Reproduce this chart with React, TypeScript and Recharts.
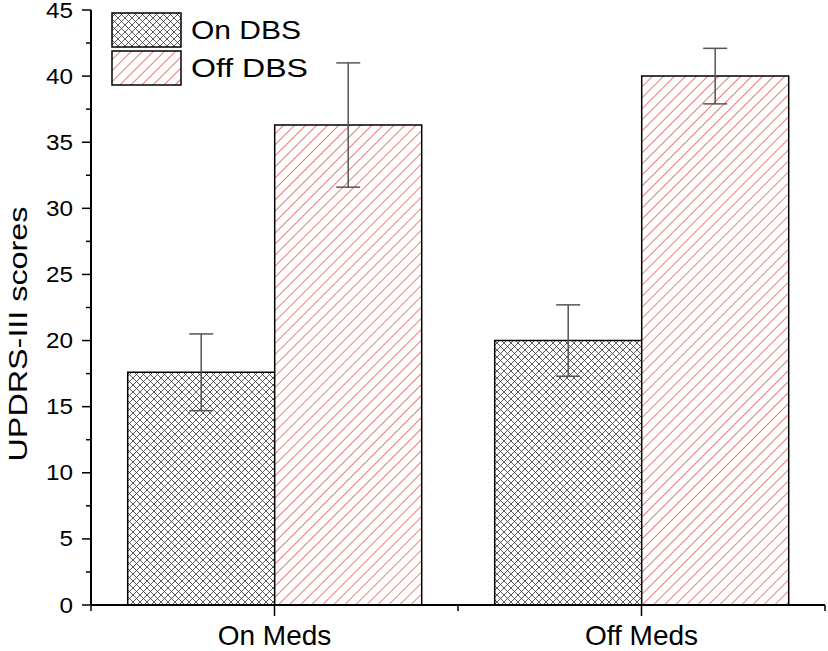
import { BarChart, Bar, XAxis, YAxis, ErrorBar, Legend } from "recharts";

const categories = ["On Meds", "Off Meds"];
const onDbs = [17.6, 20.0];
const onDbsErr = [2.9, 2.7];
const offDbs = [36.3, 40.0];
const offDbsErr = [4.7, 2.1];
const seriesKeys = ["onDbs", "offDbs"];
const yTicks = [0, 2.5, 5, 7.5, 10, 12.5, 15, 17.5, 20, 22.5, 25, 27.5, 30, 32.5, 35, 37.5, 40, 42.5, 45];

const data = categories.map((name, i) => ({
  name,
  onDbs: onDbs[i],
  onDbsErr: onDbsErr[i],
  offDbs: offDbs[i],
  offDbsErr: offDbsErr[i],
}));

const W = 828;
const H = 651;
const LEFT = 91;
const RIGHT = 3;
const HALF_BAND = (W - LEFT - RIGHT) / categories.length / 2;
const FONT = "'Liberation Sans', Arial, sans-serif";
const RED = "#dc4b40";

const fills: Record<string, string> = {
  onDbs: "url(#crosshatch)",
  offDbs: "url(#hatch)",
};

function YTick({ x, y, payload }: any) {
  const major = payload.value % 5 === 0;
  const label = String(payload.value);
  return (
    <g>
      <line x1={x - (major ? 9 : 5)} x2={x} y1={y} y2={y} stroke="#000" strokeWidth={1.5} />
      {major && (
        <text
          x={x - 18}
          y={y + 7.5}
          textAnchor="end"
          fontSize={21.5}
          fontFamily={FONT}
          fill="#000"
          textLength={label.length * 13.5}
          lengthAdjust="spacingAndGlyphs"
        >
          {label}
        </text>
      )}
    </g>
  );
}

function XTick({ x, y, payload, index }: any) {
  const last = index === categories.length - 1;
  return (
    <g>
      <line x1={x} x2={x} y1={y} y2={y + 11} stroke="#000" strokeWidth={1.5} />
      <line x1={x - HALF_BAND} x2={x - HALF_BAND} y1={y} y2={y + 6} stroke="#000" strokeWidth={1.5} />
      {last && <line x1={x + HALF_BAND} x2={x + HALF_BAND} y1={y} y2={y + 6} stroke="#000" strokeWidth={1.5} />}
      <text x={x} y={y + 40} textAnchor="middle" fontSize={28} fontFamily={FONT} fill="#000">
        {payload.value}
      </text>
    </g>
  );
}

function LegendBox({ payload }: any) {
  const items = seriesKeys
    .map((k) => (payload || []).find((p: any) => p.dataKey === k))
    .filter(Boolean);
  return (
    <svg width={200} height={78} style={{ display: "block" }}>
      {items.map((p: any, i: number) => (
        <g key={p.dataKey} transform={`translate(0 ${i * 38})`}>
          <rect x={1} y={2} width={69} height={34} fill={fills[p.dataKey]} stroke="#000" strokeWidth={1.5} />
          <text
            x={80}
            y={28}
            fontSize={25}
            fontFamily={FONT}
            fill="#000"
            textLength={p.value === "On DBS" ? 110 : 117}
            lengthAdjust="spacingAndGlyphs"
          >
            {p.value}
          </text>
        </g>
      ))}
    </svg>
  );
}

export default function App() {
  return (
    <div style={{ position: "absolute", left: 0, top: 0, background: "#fff" }}>
      <BarChart
        width={W}
        height={H}
        data={data}
        margin={{ top: 10, right: RIGHT, bottom: 0, left: 0 }}
        barCategoryGap="10%"
        barGap={0}
      >
        <defs>
          <pattern id="crosshatch" patternUnits="userSpaceOnUse" width="7" height="7">
            <rect width="7" height="7" fill="#fff" />
            <path d="M-1,-1 L8,8 M8,-1 L-1,8" stroke="#333" strokeWidth="0.8" />
          </pattern>
          <pattern id="hatch" patternUnits="userSpaceOnUse" width="7.8" height="8" patternTransform="rotate(45)">
            <rect width="7.8" height="8" fill="#fff" />
            <line x1="0" y1="0" x2="0" y2="8" stroke={RED} strokeWidth="1.4" />
          </pattern>
        </defs>
        <XAxis
          dataKey="name"
          height={46}
          tickSize={0}
          tickMargin={0}
          tick={<XTick />}
          axisLine={{ stroke: "#000", strokeWidth: 2 }}
          tickLine={false}
          interval={0}
        />
        <YAxis
          width={LEFT}
          domain={[0, 45]}
          ticks={yTicks}
          interval={0}
          tickSize={0}
          tickMargin={0}
          tick={<YTick />}
          axisLine={{ stroke: "#000", strokeWidth: 2 }}
          tickLine={false}
          label={{
            content: () => (
              <text
                x={27}
                y={334}
                transform="rotate(-90 27 334)"
                textAnchor="middle"
                fontSize={26}
                fontFamily={FONT}
                fill="#000"
                textLength={255}
                lengthAdjust="spacingAndGlyphs"
              >
                UPDRS-III scores
              </text>
            ),
          }}
        />
        <Legend
          layout="vertical"
          align="center"
          verticalAlign="middle"
          wrapperStyle={{ left: 111, top: 11, width: "auto", height: "auto" }}
          content={<LegendBox />}
        />
        <Bar dataKey="onDbs" name="On DBS" fill="url(#crosshatch)" stroke="#000" strokeWidth={1.5} isAnimationActive={false}>
          <ErrorBar dataKey="onDbsErr" width={12} stroke="#555" strokeWidth={1.5} />
        </Bar>
        <Bar dataKey="offDbs" name="Off DBS" fill="url(#hatch)" stroke="#000" strokeWidth={1.5} isAnimationActive={false}>
          <ErrorBar dataKey="offDbsErr" width={12} stroke="#555" strokeWidth={1.5} />
        </Bar>
      </BarChart>
    </div>
  );
}
